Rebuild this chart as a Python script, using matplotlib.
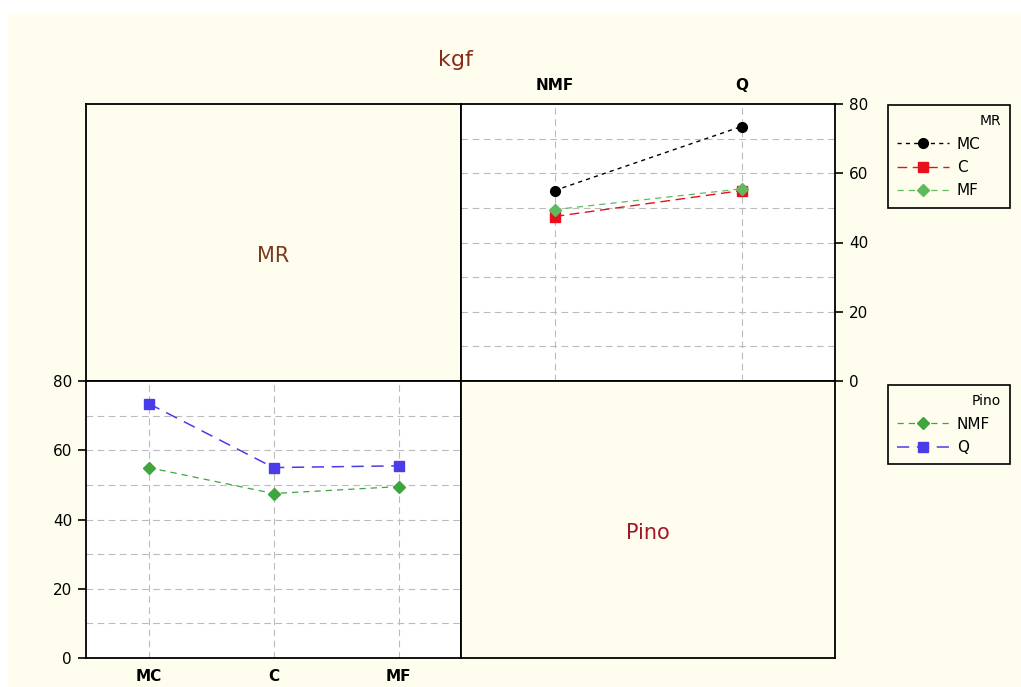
import matplotlib
matplotlib.use("Agg")
import matplotlib.pyplot as plt
from matplotlib.patches import Rectangle
from matplotlib.lines import Line2D

# ---- data ----
mr_levels = ["MC", "C", "MF"]
pino_levels = ["NMF", "Q"]
mean_nmf = [55.0, 47.5, 49.5]   # Pino = NMF, per MR level
mean_q = [73.5, 55.0, 55.5]     # Pino = Q, per MR level
y_ticks = [0, 20, 40, 60, 80]

W, H = 1021, 687
fig = plt.figure(figsize=(W / 100, H / 100), dpi=100, facecolor="white")
cream = "#FFFEEE"
fig.patches.append(Rectangle((8 / W, 0), 1 - 8 / W, 1 - 13 / H, transform=fig.transFigure,
                             facecolor=cream, edgecolor="none", zorder=-10))

def fx(px):
    return px / W

def fy(py):
    return 1 - py / H

x0, xm, x1 = 86, 461, 835
y0, ym, y1 = 104, 381, 658

def add_ax(l, t, r, b):
    return fig.add_axes([fx(l), fy(b), fx(r) - fx(l), fy(t) - fy(b)])

ax_tl = add_ax(x0, y0, xm, ym)
ax_tr = add_ax(xm, y0, x1, ym)
ax_bl = add_ax(x0, ym, xm, y1)
ax_br = add_ax(xm, ym, x1, y1)

for ax in (ax_tl, ax_tr, ax_bl, ax_br):
    for s in ax.spines.values():
        s.set_linewidth(1.3)
        s.set_color("black")

# diagonal panels
for ax, txt, col in ((ax_tl, "MR", "#7B3B1E"), (ax_br, "Pino", "#A3162A")):
    ax.set_facecolor(cream)
    ax.set_xticks([])
    ax.set_yticks([])
    ax.text(0.5, 0.45, txt, transform=ax.transAxes,
            ha="center", va="center", fontsize=15, color=col)

grid_kw = dict(color="#BBBBBB", linestyle=(0, (6, 4)), linewidth=0.8)

styles_mr = {
    "MC": dict(color="black", marker="o", ls=(0, (3, 3)), lw=1.0, ms=7),
    "C": dict(color="#E8101E", marker="s", ls=(0, (7, 4)), lw=1.0, ms=7),
    "MF": dict(color="#5DBB5D", marker="D", ls=(0, (5, 4)), lw=0.9, ms=6),
}
styles_pino = {
    "NMF": dict(color="#3FA53F", marker="D", ls=(0, (5, 4)), lw=0.9, ms=6),
    "Q": dict(color="#4A3CE8", marker="s", ls=(0, (8, 5)), lw=1.1, ms=7),
}

# top-right: response vs Pino, lines per MR level
ax_tr.set_facecolor("white")
xp = [0.25, 0.75]
for gy in range(10, 80, 10):
    ax_tr.axhline(gy, **grid_kw, zorder=0)
for gx in xp:
    ax_tr.axvline(gx, **grid_kw, zorder=0)
for i, lev in enumerate(mr_levels):
    st = styles_mr[lev]
    ax_tr.plot(xp, [mean_nmf[i], mean_q[i]], color=st["color"], marker=st["marker"],
               linestyle=st["ls"], linewidth=st["lw"], markersize=st["ms"], zorder=3)
ax_tr.set_xlim(0, 1)
ax_tr.set_ylim(0, 80)
ax_tr.set_xticks(xp)
ax_tr.set_xticklabels(pino_levels, fontweight="bold", fontsize=11)
ax_tr.xaxis.tick_top()
ax_tr.tick_params(axis="x", length=0, pad=8)
ax_tr.yaxis.tick_right()
ax_tr.set_yticks(y_ticks)
ax_tr.tick_params(axis="y", direction="out", length=6, width=1.2, labelsize=11, pad=4)

# bottom-left: response vs MR, lines per Pino level
ax_bl.set_facecolor("white")
xm_pos = [1 / 6, 3 / 6, 5 / 6]
for gy in range(10, 80, 10):
    ax_bl.axhline(gy, **grid_kw, zorder=0)
for gx in xm_pos:
    ax_bl.axvline(gx, **grid_kw, zorder=0)
for lev, vals in zip(pino_levels, (mean_nmf, mean_q)):
    st = styles_pino[lev]
    ax_bl.plot(xm_pos, vals, color=st["color"], marker=st["marker"],
               linestyle=st["ls"], linewidth=st["lw"], markersize=st["ms"], zorder=3)
ax_bl.set_xlim(0, 1)
ax_bl.set_ylim(0, 80)
ax_bl.set_xticks(xm_pos)
ax_bl.set_xticklabels(mr_levels, fontweight="bold", fontsize=11)
ax_bl.tick_params(axis="x", length=0, pad=8)
ax_bl.set_yticks(y_ticks)
ax_bl.tick_params(axis="y", direction="out", length=6, width=1.2, labelsize=11, pad=4)

# title
fig.text(fx(455), fy(60), "kgf", ha="center", va="center", fontsize=16, color="#8B2A1A")

# legends
def make_handles(levels, styles):
    hs = []
    for lev in levels:
        st = styles[lev]
        hs.append(Line2D([], [], color=st["color"], marker=st["marker"], linestyle=st["ls"],
                         linewidth=st["lw"], markersize=st["ms"]))
    return hs

for levels, styles, title, top in ((mr_levels, styles_mr, "MR", 105),
                                   (pino_levels, styles_pino, "Pino", 385)):
    leg = fig.legend(make_handles(levels, styles), levels, title=title,
                     loc="upper left",
                     bbox_to_anchor=(fx(888), fy(top + 100), fx(1010) - fx(888), fy(top) - fy(top + 100)),
                     mode="expand",
                     frameon=True, fancybox=False, edgecolor="black", facecolor=cream,
                     framealpha=1, fontsize=11, title_fontsize=10, handlelength=3.4,
                     borderpad=0.6, labelspacing=0.55, handletextpad=0.5,
                     alignment="right", borderaxespad=0)
    leg.get_frame().set_linewidth(1.2)

fig.savefig("out.png", dpi=100, facecolor="white")
